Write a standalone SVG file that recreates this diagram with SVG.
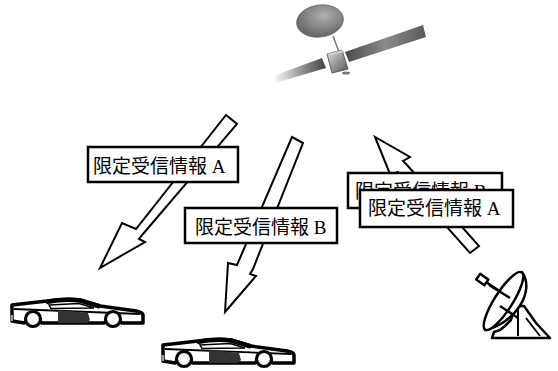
<svg xmlns="http://www.w3.org/2000/svg" xmlns:xlink="http://www.w3.org/1999/xlink" width="558" height="371" viewBox="0 0 558 371">
  <style>
    .arrow { fill: #fff; stroke: #000; stroke-width: 2; stroke-linejoin: miter; }
    .box { fill: #fff; stroke: #000; stroke-width: 2.5; }
    .lbl { font-family: "Liberation Serif", "Noto Sans CJK JP", serif; font-size: 19px; fill: #000; }
    .ink { fill: #fff; stroke: #000; stroke-width: 2.5; stroke-linejoin: round; }
  </style>
  <defs>
    <linearGradient id="panelR" x1="0" y1="0" x2="1" y2="0">
      <stop offset="0" stop-color="#4a4a4a"/>
      <stop offset="0.5" stop-color="#8a8a8a"/>
      <stop offset="1" stop-color="#5a5a5a"/>
    </linearGradient>
    <linearGradient id="panelL" x1="0" y1="0" x2="1" y2="0">
      <stop offset="0" stop-color="#ffffff"/>
      <stop offset="0.6" stop-color="#888"/>
      <stop offset="1" stop-color="#444"/>
    </linearGradient>
    <radialGradient id="dishG" cx="0.6" cy="0.35" r="0.75">
      <stop offset="0" stop-color="#b0b0b0"/>
      <stop offset="1" stop-color="#5a5a5a"/>
    </radialGradient>
    <linearGradient id="bodyG" x1="0" y1="0" x2="1" y2="1">
      <stop offset="0" stop-color="#ddd"/>
      <stop offset="1" stop-color="#555"/>
    </linearGradient>
    <!-- sports car, facing right, local origin at rear top-left -->
    <g id="car">
      <path d="M0,7 L35,3 C45,1.5 60,1 68,2 L88,8 L124,13 C129,14 131,16 131,17 L131,25 L109.7,25 A10,10 0 0 0 92.3,25 L29.7,25 A10,10 0 0 0 12.3,25 L0,23 Z" fill="#fff" stroke="#000" stroke-width="3.5" stroke-linejoin="round"/>
      <path d="M34,4 C45,2 60,1.5 68,2.5 L88,8.5" fill="none" stroke="#000" stroke-width="4.5" stroke-linejoin="round"/>
      <path d="M37,7 L67,5.5 L82,10 L39,10.5 Z" fill="#fff" stroke="#000" stroke-width="1.5"/>
      <path d="M2,11 L128,16" stroke="#000" stroke-width="1.8" fill="none"/>
      <path d="M46,12 L76,15 L78,22 L75,25 L46,25 Z" fill="#333"/>
      <rect x="-1.5" y="17" width="2.5" height="6" fill="#999"/>
      <circle cx="21" cy="21" r="7.5" fill="#fff" stroke="#000" stroke-width="3.2"/>
      <circle cx="101" cy="21" r="7.5" fill="#fff" stroke="#000" stroke-width="3.2"/>
    </g>
  </defs>

  <rect width="558" height="371" fill="#fff"/>

  <!-- broadcast satellite -->
  <g id="satellite">
    <polygon points="273,76 322,58 326,68 275,83" fill="url(#panelL)"/>
    <polygon points="345,52 423,25 426,37 349,62" fill="url(#panelR)"/>
    <line x1="333" y1="36" x2="339" y2="52" stroke="#777" stroke-width="1.5"/>
    <ellipse cx="320" cy="21" rx="23.5" ry="16" transform="rotate(-8 320 21)" fill="url(#dishG)" stroke="#666" stroke-width="0.8"/>
    <polygon points="327,54 342,50 348,69 332,73" fill="url(#bodyG)" stroke="#444" stroke-width="0.8"/>
    <polygon points="327,54 342,50 345,52 330,56" fill="#ccc"/>
    <ellipse cx="346" cy="73" rx="4" ry="1.5" fill="#777"/>
  </g>

  <!-- transmission paths -->
  <g id="connectors">
    <polygon class="arrow" points="226,115 136,229 122,223 100,268 145,242 139,239 143,234 237,124"/>
    <polygon class="arrow" points="292,137 237,265 228,263 225,312 256,276 250,274 253,269 303,143"/>
    <polygon class="arrow" points="375,137 390,174 398,172 470,253 479,246 407,165 403,161 410,157"/>
  </g>

  <!-- labels on the paths -->
  <g id="label-down-a">
    <rect class="box" x="88" y="147" width="150" height="35"/>
    <text class="lbl" x="93" y="172.5">限定受信情報 A</text>
  </g>
  <g id="label-down-b">
    <rect class="box" x="185" y="208" width="152" height="35"/>
    <text class="lbl" x="195" y="234">限定受信情報 B</text>
  </g>
  <g id="label-up-b">
    <rect class="box" x="348" y="173" width="154" height="35"/>
    <text class="lbl" x="355" y="198">限定受信情報 B</text>
  </g>
  <g id="label-up-a">
    <rect class="box" x="360" y="190" width="153" height="37"/>
    <text class="lbl" x="368" y="214.5">限定受信情報 A</text>
  </g>

  <!-- receivers -->
  <g id="car-1">
    <use xlink:href="#car" x="12" y="298"/>
  </g>
  <g id="car-2">
    <use xlink:href="#car" x="163" y="338"/>
  </g>

  <!-- uplink ground station -->
  <g id="ground-station">
    <path class="ink" d="M492,338 L550,338 L536,323 L524,306 L515,306 L511,320 L505,326 L500,330 L494,332 Z"/>
    <path d="M518,306 L518,336 M526,318 L540,336" stroke="#000" stroke-width="2" fill="none"/>
    <path class="ink" d="M522,272 C536,292 514,324 485,330 Z"/>
    <ellipse class="ink" cx="503.5" cy="301" rx="34" ry="9" transform="rotate(-57.5 503.5 301)"/>
    <path d="M498,290 L483,280 M510,298 L489,285 M500,306 L518,318" stroke="#000" stroke-width="2.5" fill="none"/>
    <rect class="ink" x="477" y="276" width="10" height="7" transform="rotate(35 482 280)"/>
  </g>
</svg>
